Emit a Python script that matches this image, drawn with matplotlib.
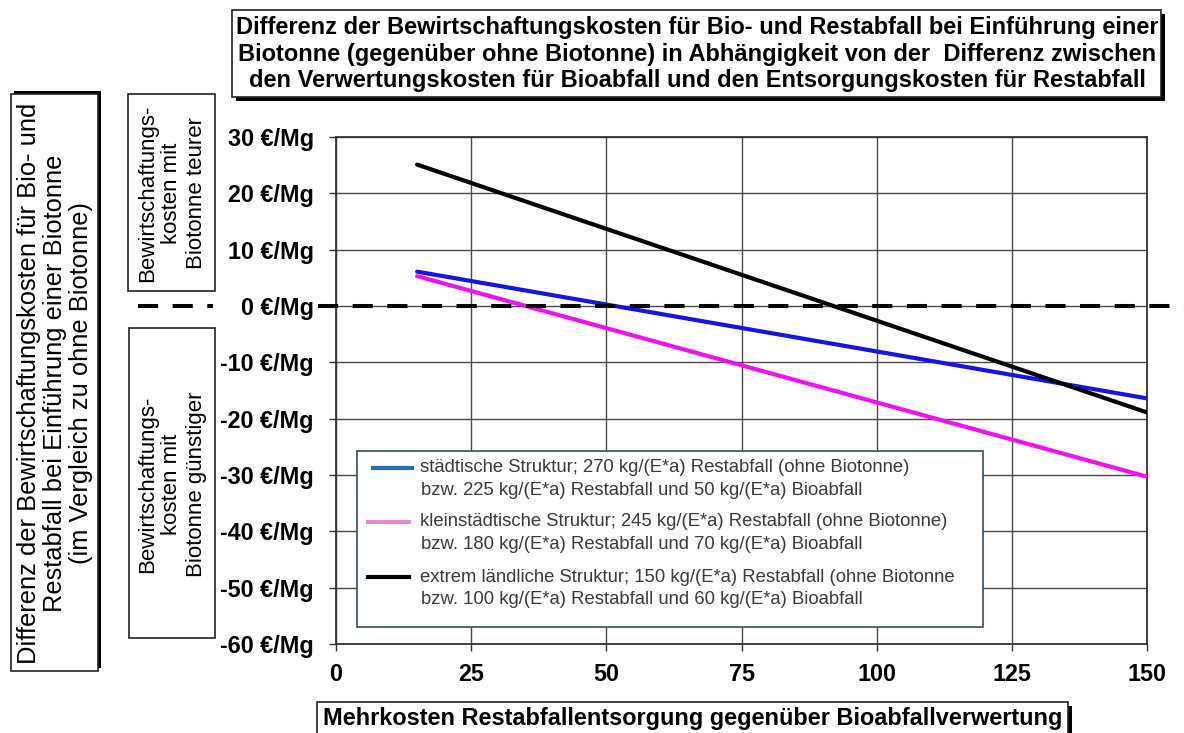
import matplotlib
matplotlib.use("Agg")
import matplotlib.pyplot as plt
from matplotlib.patches import Rectangle
from matplotlib.lines import Line2D
from matplotlib.transforms import blended_transform_factory

plt.rcParams['font.family'] = ['Liberation Sans', 'DejaVu Sans']

# ---- data -------------------------------------------------------------
x_mehrkosten = [15, 150]                 # €/Mg Mehrkosten Restabfall
staedtisch = [6.1, -16.4]
kleinstaedtisch = [5.3, -30.3]
laendlich = [25.1, -18.9]

x_ticks = [0, 25, 50, 75, 100, 125, 150]
y_ticks = [30, 20, 10, 0, -10, -20, -30, -40, -50, -60]
y_tick_labels = [f"{v} €/Mg" for v in y_ticks]

legend_labels = [
    ("städtische Struktur; 270 kg/(E*a) Restabfall (ohne Biotonne)",
     "bzw. 225 kg/(E*a) Restabfall und 50 kg/(E*a) Bioabfall"),
    ("kleinstädtische Struktur; 245 kg/(E*a) Restabfall (ohne Biotonne)",
     "bzw. 180 kg/(E*a) Restabfall und 70 kg/(E*a) Bioabfall"),
    ("extrem ländliche Struktur; 150 kg/(E*a) Restabfall (ohne Biotonne",
     "bzw. 100 kg/(E*a) Restabfall und 60 kg/(E*a) Bioabfall"),
]
line_colors = ["#1414E6", "#F010F0", "#000000"]
legend_colors = ["#1F6FBF", "#E48ACB", "#000000"]

title = ("Differenz der Bewirtschaftungskosten für Bio- und Restabfall bei Einführung einer\n"
         "Biotonne (gegenüber ohne Biotonne) in Abhängigkeit von der  Differenz zwischen\n"
         "den Verwertungskosten für Bioabfall und den Entsorgungskosten für Restabfall")
y_title = ("Differenz der Bewirtschaftungskosten für Bio- und\n"
           "Restabfall bei Einführung einer Biotonne\n"
           "(im Vergleich zu ohne Biotonne)")
x_title = "Mehrkosten Restabfallentsorgung gegenüber Bioabfallverwertung"
box_teurer = "Bewirtschaftungs-\nkosten mit\nBiotonne teurer"
box_guenstiger = "Bewirtschaftungs-\nkosten mit\nBiotonne günstiger"

# ---- figure -----------------------------------------------------------
W, H = 1184, 733
fig = plt.figure(figsize=(W / 100, H / 100), dpi=100)


def fx(px):
    return px / W


def fy(py):
    return 1 - py / H


ax = fig.add_axes([fx(336), fy(644), fx(1147) - fx(336), fy(137) - fy(644)])
ax.set_xlim(0, 150)
ax.set_ylim(-60, 30)

ax.grid(True, color="#4a4a4a", linewidth=1.0)
for s in ax.spines.values():
    s.set_color("#333333")
    s.set_linewidth(1.3)

ax.set_xticks(x_ticks)
ax.set_xticklabels([str(v) for v in x_ticks])
ax.set_yticks(y_ticks)
ax.set_yticklabels(y_tick_labels)
ax.tick_params(axis="y", length=5, width=1.0, color="#333333", pad=11,
               labelsize=16.8)
ax.tick_params(axis="x", length=5, width=1.0, color="#333333", pad=9,
               labelsize=16.8)
for lab in ax.get_xticklabels() + ax.get_yticklabels():
    lab.set_fontweight("bold")

for yv, col in zip([staedtisch, kleinstaedtisch, laendlich], line_colors):
    ax.plot(x_mehrkosten, yv, color=col, linewidth=3.0,
            solid_capstyle="round", zorder=4)

# zero reference line, running across the whole figure width
blend = blended_transform_factory(fig.transFigure, ax.transData)
for x0, x1 in [(fx(138), fx(213)), (fx(318), 1.0)]:
    ax.add_line(Line2D([x0, x1], [0, 0], transform=blend, color="black",
                       linewidth=2.9, linestyle=(0, (5.0, 3.6)),
                       dash_capstyle="butt", clip_on=False, zorder=5))

# legend box drawn in axes coordinates
ax.add_patch(Rectangle((0.0259, 0.0335), 0.7978 - 0.0259, 0.3807 - 0.0335,
                       transform=ax.transAxes, facecolor="white",
                       edgecolor="#3b4a68", linewidth=1.2, zorder=6))
handle_x = [(0.0456, 0.0937), (0.0395, 0.0900), (0.0395, 0.0900)]
entry_y = [468, 522, 577]
for (l1, l2), col, (hx0, hx1), py in zip(legend_labels, legend_colors,
                                         handle_x, entry_y):
    yy = (644 - py) / 507
    ax.add_line(Line2D([hx0, hx1], [yy, yy], transform=ax.transAxes,
                       color=col, linewidth=3.0, zorder=7))
    ax.text(0.1036, yy, l1, transform=ax.transAxes, fontsize=13.3,
            color="#3a3a3a", va="center", ha="left", zorder=7)
    ax.text(0.1050, (644 - py - 22.5) / 507, l2, transform=ax.transAxes,
            fontsize=13.3, color="#3a3a3a", va="center", ha="left", zorder=7)


# ---- boxed annotations around the plot ---------------------------------
def box(x0, y0, x1, y1, shadow=None, lw=1.2, edge="#222222"):
    if shadow is not None:
        dx, dy = shadow
        fig.add_artist(Rectangle((fx(x0 + dx), fy(y1 + dy)),
                                 fx(x1) - fx(x0), fy(y0) - fy(y1),
                                 transform=fig.transFigure,
                                 facecolor="black", edgecolor="none"))
    fig.add_artist(Rectangle((fx(x0), fy(y1)), fx(x1) - fx(x0),
                             fy(y0) - fy(y1), transform=fig.transFigure,
                             facecolor="white", edgecolor=edge, linewidth=lw))


box(232, 10, 1161, 97, shadow=(4, 4))
fig.text(fx(697), fy(54), title, ha="center", va="center", fontsize=17,
         fontweight="bold", linespacing=1.17)

box(11, 94, 98, 671, shadow=(3, -3))
fig.text(fx(55), fy(383), y_title, ha="center", va="center", fontsize=18.4,
         rotation=90, linespacing=1.08, rotation_mode="anchor")

box(128, 94, 215, 291)
fig.text(fx(172), fy(193), box_teurer, ha="center", va="center",
         fontsize=16, rotation=90, linespacing=1.22, rotation_mode="anchor")

box(129, 328, 215, 638)
fig.text(fx(172), fy(484), box_guenstiger, ha="center", va="center",
         fontsize=16, rotation=90, linespacing=1.22, rotation_mode="anchor")

box(317, 702, 1068, 745, shadow=(4, 4))
fig.text(fx(323), fy(719), x_title, ha="left", va="center", fontsize=16.9,
         fontweight="bold")

fig.savefig("out.png", dpi=100)
